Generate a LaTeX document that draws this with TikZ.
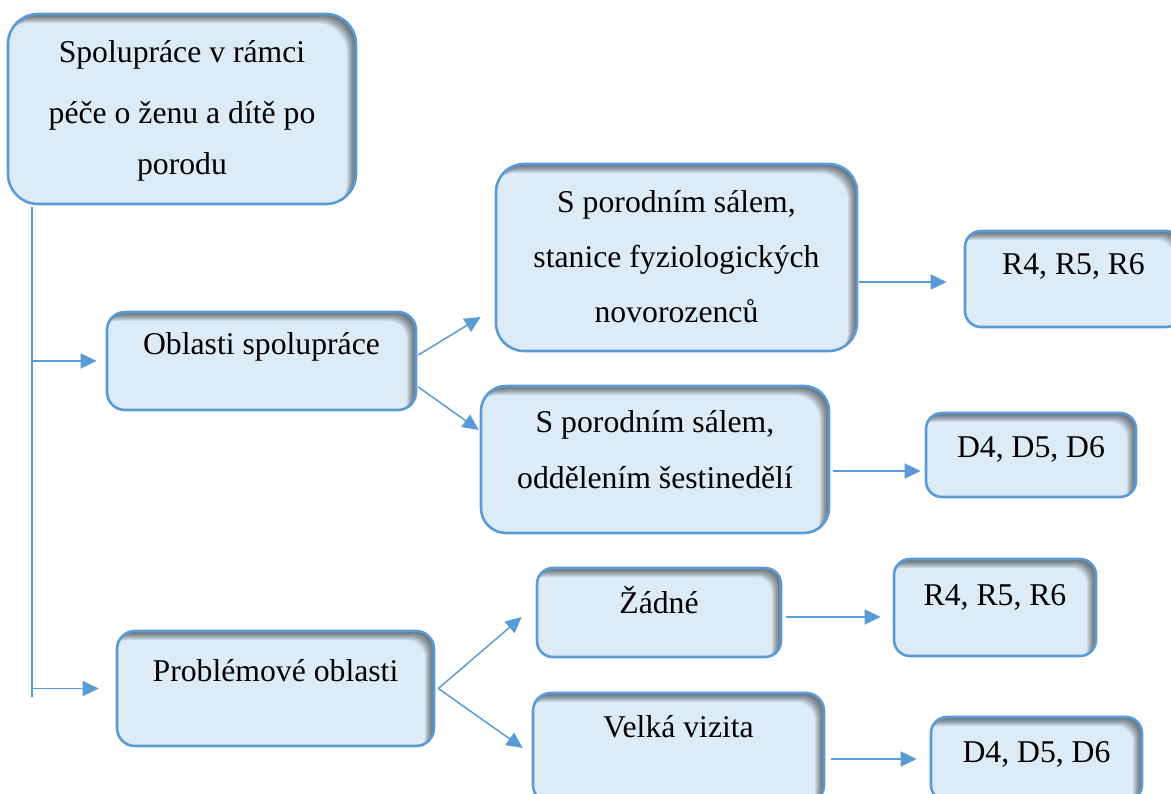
\documentclass[tikz,border=0pt]{standalone}
\usepackage{fontspec}
\setmainfont{Liberation Serif}
\usetikzlibrary{arrows.meta,calc}
\definecolor{boxblue}{HTML}{5B9BD5}
\definecolor{boxfill}{HTML}{DDEBF7}
\begin{document}
\begin{tikzpicture}[x=1pt,y=-1pt,
  box/.style={draw=boxblue, line width=2.6pt, fill=boxfill, rounded corners=#1, inner sep=0pt,
    path picture={
      \foreach \d in {1,2,3,4,5,6,7,8,9}{
        \fill[black, opacity=0.08, even odd rule, rounded corners=#1]
          ([shift={(-40pt,-40pt)}]path picture bounding box.south west) rectangle
          ([shift={(40pt,40pt)}]path picture bounding box.north east)
          ([shift={(-\d pt,-\d pt)}]path picture bounding box.south west) rectangle
          ([shift={(-\d pt,-\d pt)}]path picture bounding box.north east);
      }
    }},
  txt/.style={font=\fontsize{31.7}{38}\selectfont, anchor=base, inner sep=0pt, text=black},
  arr/.style={draw=boxblue, line width=1.5pt, -{Triangle[length=16pt,width=15pt]}},
  ln/.style={draw=boxblue, line width=1.5pt}]

\path[use as bounding box, clip] (0,0) rectangle (1171,794);

% boxes
\node[box=30pt, minimum width=348pt, minimum height=190pt] (b1) at (182,109) {};
\node[box=18pt, minimum width=309pt, minimum height=98pt] (obl) at (261.5,361) {};
\node[box=28pt, minimum width=361pt, minimum height=187pt] (s1) at (676.5,257.5) {};
\node[box=16pt, minimum width=217pt, minimum height=96pt] (r1) at (1073.5,279) {};
\node[box=25pt, minimum width=348pt, minimum height=147pt] (s2) at (655,459.5) {};
\node[box=16pt, minimum width=210pt, minimum height=84pt] (d1) at (1031,455) {};
\node[box=16pt, minimum width=244pt, minimum height=89pt] (zad) at (659,612.5) {};
\node[box=16pt, minimum width=202pt, minimum height=97pt] (r2) at (995,607.5) {};
\node[box=18pt, minimum width=317pt, minimum height=115pt] (pro) at (275.5,688.5) {};
\node[box=18pt, minimum width=291pt, minimum height=110pt] (vel) at (678.5,748) {};
\node[box=16pt, minimum width=211pt, minimum height=84pt] (d2) at (1036.5,759) {};

% texts
\node[txt] (b1a) at (182,63) {Spolupráce v rámci};
\node[txt] (b1b) at (182,124) {péče o ženu a dítě po};
\node[txt] (b1c) at (182,175) {porodu};
\node[txt] (obla) at (261.5,355) {Oblasti spolupráce};
\node[txt] (s1a) at (676.5,213) {S porodním sálem,};
\node[txt] (s1b) at (676.5,268) {stanice fyziologických};
\node[txt] (s1c) at (676.5,323) {novorozenců};
\node[txt] (r1a) at (1073.5,275) {R4, R5, R6};
\node[txt] (s2a) at (655,433) {S porodním sálem,};
\node[txt] (s2b) at (655,488) {oddělením šestinedělí};
\node[txt] (d1a) at (1031,457) {D4, D5, D6};
\node[txt] (zada) at (659,613) {Žádné};
\node[txt] (r2a) at (995,605) {R4, R5, R6};
\node[txt] (proa) at (275.5,681) {Problémové oblasti};
\node[txt] (vela) at (678.5,737) {Velká vizita};
\node[txt] (d2a) at (1036.5,762) {D4, D5, D6};

% trunk
\coordinate (t0) at (32,207);
\coordinate (t1) at (32,697);
\draw[ln] (t0) -- (t1);
\draw[arr] (t0 |- obl.west) -- ([xshift=-9pt]obl.west);
\draw[arr] (t0 |- pro.west) -- ([xshift=-17pt]pro.west);

% branches
\draw[arr] ([xshift=1pt,yshift=6pt]obl.east) -- ([xshift=-14pt,yshift=-59.5pt]s1.west);
\draw[arr] ([xshift=1pt,yshift=-26pt]obl.east) -- ([xshift=-1pt,yshift=29.5pt]s2.west);
\draw[arr] ([xshift=3pt]pro.east) -- ([xshift=-14pt,yshift=-4.5pt]zad.west);
\draw[arr] ([xshift=3pt]pro.east) -- ([xshift=-9pt]vel.west);

\draw[arr] ([xshift=1pt,yshift=-24.5pt]s1.east) -- ([xshift=-17pt,yshift=-3pt]r1.west);
\draw[arr] ([xshift=3pt,yshift=-11.5pt]s2.east) -- ([xshift=-4pt,yshift=-16pt]d1.west);
\draw[arr] ([xshift=4pt,yshift=-4.5pt]zad.east) -- ([xshift=-12pt,yshift=-9.5pt]r2.west);
\draw[arr] ([xshift=6pt,yshift=-11pt]vel.east) -- ([xshift=-13pt]d2.west);
\end{tikzpicture}
\end{document}
